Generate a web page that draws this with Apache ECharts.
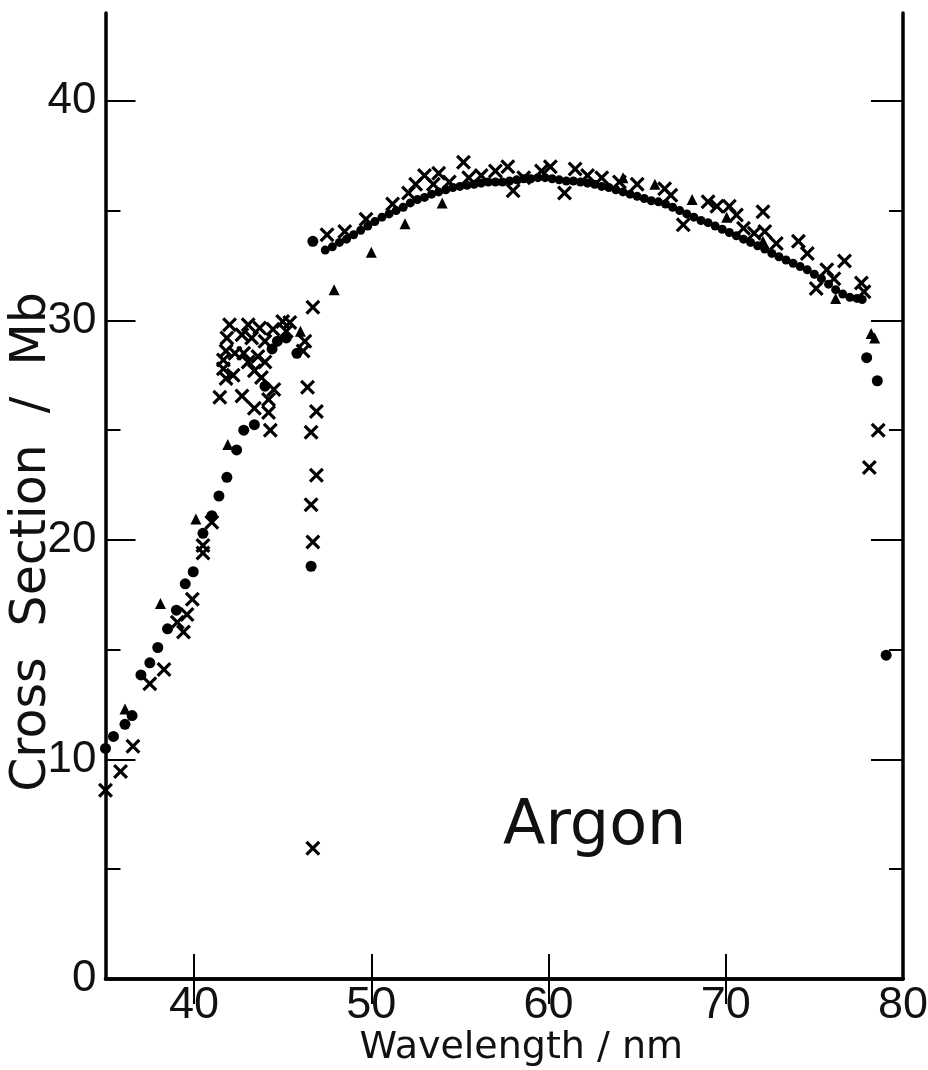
<!DOCTYPE html>
<html>
<head>
<meta charset="utf-8">
<script src="https://cdn.jsdelivr.net/npm/echarts@6/dist/echarts.min.js"></script>
<style>
  html, body { margin: 0; padding: 0; background: #fff; }
  #main { width: 928px; height: 1070px; }
</style>
</head>
<body>
<div id="main"></div>
<script>
// values: [wavelength nm, cross section Mb]
var circlePoints = [
  [35.0, 10.5], [35.45, 11.05], [36.1, 11.6], [36.5, 12.0], [37.0, 13.85], [37.5, 14.4],
  [37.95, 15.1], [38.5, 15.95], [39.0, 16.8], [39.5, 18.0], [39.95, 18.55], [40.5, 20.3],
  [41.0, 21.1], [41.4, 22.0], [41.85, 22.85], [42.4, 24.1], [42.8, 25.0], [43.4, 25.25],
  [44.0, 27.0], [44.4, 28.7], [44.7, 29.05], [45.2, 29.2], [45.8, 28.5], [46.6, 18.8],
  [46.7, 33.6], [77.95, 28.3], [78.55, 27.25], [79.05, 14.75]
];

var curvePoints = [
  [47.4, 33.2], [47.8, 33.35], [48.2, 33.55], [48.6, 33.7], [49.0, 33.9], [49.4, 34.1],
  [49.8, 34.3], [50.2, 34.5], [50.6, 34.7], [51.0, 34.85], [51.4, 35.0], [51.8, 35.15],
  [52.2, 35.35], [52.6, 35.5], [53.0, 35.6], [53.4, 35.75], [53.8, 35.85], [54.2, 35.95],
  [54.6, 36.05], [55.0, 36.1], [55.4, 36.15], [55.8, 36.2], [56.2, 36.25], [56.6, 36.3],
  [57.0, 36.3], [57.4, 36.3], [57.8, 36.35], [58.2, 36.4], [58.6, 36.45], [59.0, 36.45],
  [59.4, 36.5], [59.8, 36.5], [60.2, 36.45], [60.6, 36.4], [61.0, 36.35], [61.4, 36.35],
  [61.8, 36.3], [62.2, 36.25], [62.6, 36.2], [63.0, 36.1], [63.4, 36.05], [63.8, 35.95],
  [64.2, 35.85], [64.6, 35.75], [65.0, 35.65], [65.4, 35.55], [65.8, 35.45], [66.2, 35.4],
  [66.6, 35.3], [67.0, 35.15], [67.4, 35.0], [67.8, 34.85], [68.2, 34.7], [68.6, 34.55],
  [69.0, 34.45], [69.4, 34.3], [69.8, 34.15], [70.2, 34.0], [70.6, 33.85], [71.0, 33.7],
  [71.4, 33.55], [71.8, 33.4], [72.2, 33.25], [72.6, 33.05], [73.0, 32.9], [73.4, 32.75],
  [73.8, 32.6], [74.2, 32.45], [74.6, 32.3], [75.0, 32.1], [75.4, 31.9], [75.8, 31.65],
  [76.2, 31.4], [76.6, 31.2], [77.0, 31.05], [77.4, 31.0], [77.7, 30.95]
];

var crossPoints = [
  [35.0, 8.6], [35.85, 9.45], [36.55, 10.6], [37.5, 13.45], [38.3, 14.1], [39.05, 16.25],
  [39.4, 15.8], [39.6, 16.6], [39.9, 17.3], [40.5, 19.4], [40.5, 19.75], [41.0, 20.8],
  [42.0, 29.8], [41.85, 29.2], [41.8, 28.6], [41.65, 28.2], [41.65, 27.8], [41.8, 27.35],
  [42.2, 27.5], [42.7, 29.35], [43.05, 29.8], [43.25, 29.2], [43.7, 29.65], [42.8, 28.5],
  [42.3, 28.5], [43.05, 28.1], [43.6, 28.35], [44.0, 28.1], [43.4, 27.7], [44.45, 29.6],
  [44.0, 29.05], [45.0, 29.95], [45.4, 29.9], [45.2, 29.5], [46.25, 29.05], [46.15, 28.6],
  [46.7, 30.6], [41.45, 26.5], [42.7, 26.55], [43.8, 27.4], [44.5, 26.85], [44.2, 26.4],
  [43.4, 26.0], [44.2, 25.8], [44.3, 25.0],
  [46.4, 26.95], [46.9, 25.85], [46.6, 24.9], [46.9, 22.95], [46.6, 21.6], [46.7, 19.9],
  [46.7, 5.95],
  [47.5, 33.9], [48.5, 34.05], [49.7, 34.6], [51.2, 35.3], [52.1, 35.8], [52.5, 36.2],
  [53.0, 36.6], [53.5, 36.2], [53.8, 36.7], [54.4, 36.3], [55.2, 37.2], [55.5, 36.5],
  [56.2, 36.6], [57.0, 36.8], [57.7, 37.0], [58.0, 35.9], [58.6, 36.5], [59.6, 36.8],
  [60.1, 37.0], [60.9, 35.8], [61.5, 36.9], [62.2, 36.6], [63.0, 36.5], [64.0, 36.3],
  [65.0, 36.2], [66.55, 36.0], [66.9, 35.7], [67.6, 34.35], [69.0, 35.4], [69.5, 35.2],
  [70.2, 35.2], [70.6, 34.8], [72.1, 34.95], [71.0, 34.2], [71.6, 33.97], [72.2, 34.05],
  [72.85, 33.5], [74.1, 33.6], [74.6, 33.05], [75.7, 32.3], [76.1, 31.9], [76.7, 32.7],
  [75.1, 31.45], [77.65, 31.7], [77.8, 31.3], [78.1, 23.3], [78.6, 25.0]
];

var trianglePoints = [
  [36.1, 12.3], [38.1, 17.1], [40.1, 20.95], [41.9, 24.35], [46.0, 29.5], [47.9, 31.4],
  [50.0, 33.1], [51.9, 34.4], [54.0, 35.35], [64.2, 36.5], [66.0, 36.2], [68.1, 35.5],
  [70.05, 34.7], [72.1, 33.6], [76.2, 31.0], [78.2, 29.4], [78.4, 29.2]
];

var xLabels = [40, 50, 60, 70, 80];
var xTicks = [40, 50, 60, 70];
var yLabels = [0, 10, 20, 30, 40];
var yMajorTicks = [10, 20, 30, 40];
var yMinorTicks = [5, 15, 25, 35];

var crossSymbol = 'path://M3,0 L10,7 L17,0 L20,3 L13,10 L20,17 L17,20 L10,13 L3,20 L0,17 L7,10 L0,3 Z';
var labelFont = "'Liberation Sans Narrow', 'Liberation Sans', sans-serif";
var nameFont = "'DejaVu Sans', sans-serif";
var ink = '#000';

var myChart = echarts.init(document.getElementById('main'));

function yAxisOpt(pos, ticks, len, withLabels) {
  return {
    type: 'value',
    position: pos,
    min: 0,
    max: 44,
    axisLine: { show: withLabels, lineStyle: { color: ink, width: 3.5 } },
    axisTick: { show: true, inside: true, length: len, customValues: ticks,
      lineStyle: { color: ink, width: 2 } },
    axisLabel: withLabels && pos === 'left' ? {
      show: true, customValues: yLabels, margin: 9,
      fontFamily: labelFont, fontSize: 44, color: '#111'
    } : { show: false },
    splitLine: { show: false }
  };
}

var yLeft = yAxisOpt('left', yMajorTicks, 30, true);
yLeft.name = 'Cross  Section  /  Mb';
yLeft.nameLocation = 'middle';
yLeft.nameGap = 49;
yLeft.nameMoveOverlap = false;
yLeft.nameTextStyle = { fontFamily: nameFont, fontSize: 49, color: '#111', padding: [0, 92, 0, 0] };

var option = {
  animation: false,
  backgroundColor: '#fff',
  grid: { left: 105.5, right: 25, top: 13, bottom: 91, containLabel: false, outerBoundsMode: 'none' },
  title: {
    text: 'Argon',
    left: 498,
    top: 792,
    textStyle: { fontFamily: nameFont, fontSize: 62, fontWeight: 'normal', color: '#111' }
  },
  xAxis: [
    {
      type: 'value', position: 'bottom', min: 35, max: 80,
      axisLine: { lineStyle: { color: ink, width: 3.5 } },
      axisTick: { inside: true, length: 25, customValues: xTicks, lineStyle: { color: ink, width: 2 } },
      axisLabel: { customValues: xLabels, margin: 4, fontFamily: labelFont, fontSize: 45, color: '#111' },
      splitLine: { show: false },
      name: 'Wavelength / nm',
      nameLocation: 'middle',
      nameGap: 50,
      nameMoveOverlap: false,
      nameTextStyle: { fontFamily: nameFont, fontSize: 38, color: '#111', padding: [0, 0, 0, 34] }
    },
    {
      type: 'value', position: 'top', min: 35, max: 80,
      axisLine: { lineStyle: { color: ink, width: 3.5 } },
      axisTick: { inside: true, length: 25, customValues: xTicks, lineStyle: { color: ink, width: 2 } },
      axisLabel: { show: false },
      splitLine: { show: false }
    }
  ],
  yAxis: [
    yLeft,
    yAxisOpt('left', yMinorTicks, 15, false),
    yAxisOpt('right', yMajorTicks, 32, true),
    yAxisOpt('right', yMinorTicks, 14, false)
  ],
  series: [
    {
      name: 'cross', type: 'scatter', data: crossPoints,
      symbol: crossSymbol, symbolSize: 15,
      itemStyle: { color: ink, opacity: 1 }
    },
    {
      name: 'triangle', type: 'scatter', data: trianglePoints,
      symbol: 'triangle', symbolSize: 11,
      itemStyle: { color: ink, opacity: 1 }
    },
    {
      name: 'circle', type: 'scatter', data: circlePoints,
      symbol: 'circle', symbolSize: 11,
      itemStyle: { color: ink, opacity: 1 }
    },
    {
      name: 'curve', type: 'scatter', data: curvePoints,
      symbol: 'circle', symbolSize: 9,
      itemStyle: { color: ink, opacity: 1 }
    }
  ]
};

myChart.setOption(option);
</script>
</body>
</html>
